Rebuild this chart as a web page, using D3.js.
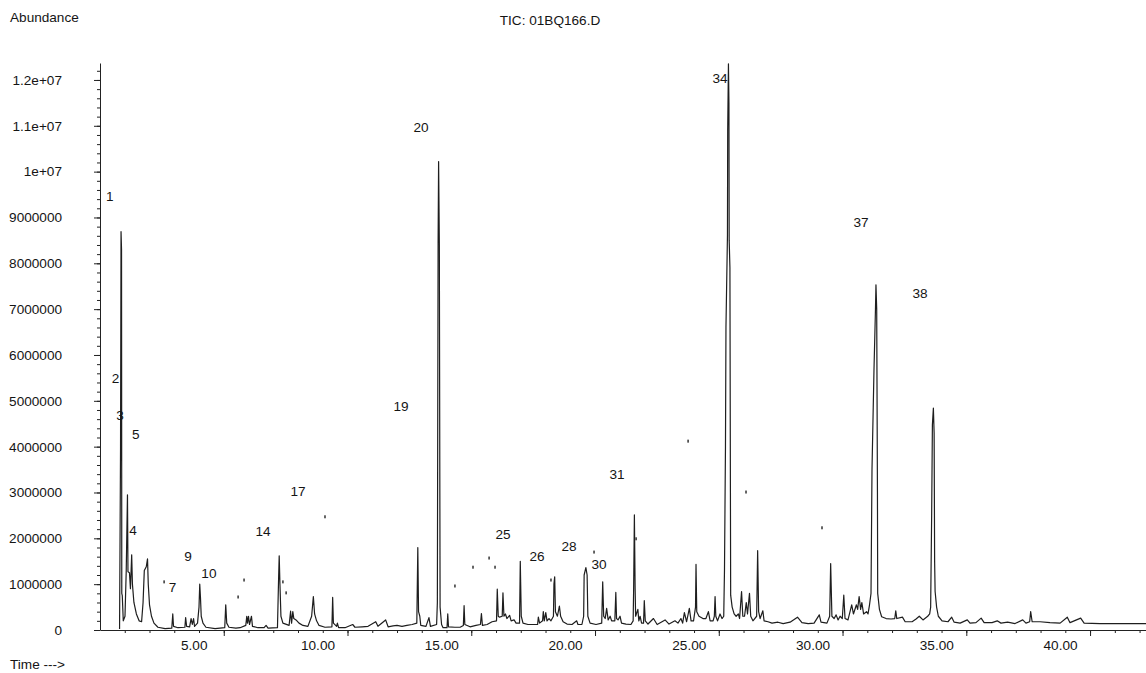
<!DOCTYPE html>
<html>
<head>
<meta charset="utf-8">
<script src="https://cdn.jsdelivr.net/npm/d3@7"></script>
<style>
  body { margin: 0; background: #fff; }
  text { font-family: "Liberation Sans", Arial, sans-serif; fill: #151515; }
</style>
</head>
<body>
<div class="tic-plot"></div>
<script>
// TIC trace: [retention time (min), abundance (millions)]
const trace = [
  [0.79,0.02],[0.83,4.0],[0.85,8.69],[0.87,8.3],[0.88,0.8],[0.90,0.75],[0.94,0.2],[1.01,0.3],
  [1.06,1.3],[1.11,2.95],[1.13,1.27],[1.19,1.25],[1.23,0.9],[1.28,1.64],[1.31,1.0],[1.37,0.6],
  [1.47,0.35],[1.58,0.2],[1.68,0.18],[1.74,0.6],[1.79,1.3],[1.87,1.38],[1.92,1.55],[1.95,1.0],
  [2.00,0.55],[2.08,0.3],[2.18,0.15],[2.34,0.06],[2.63,0.03],[2.90,0.04],[2.94,0.35],[2.97,0.08],
  [3.15,0.05],[3.43,0.06],[3.46,0.27],[3.50,0.08],[3.62,0.07],[3.68,0.25],[3.73,0.12],[3.78,0.25],
  [3.82,0.08],[3.94,0.15],[4.00,0.5],[4.03,1.0],[4.06,0.7],[4.09,0.3],[4.16,0.15],[4.28,0.06],
  [4.65,0.03],[5.04,0.05],[5.08,0.55],[5.12,0.15],[5.21,0.06],[5.49,0.04],[5.66,0.05],[5.89,0.1],
  [5.93,0.3],[5.96,0.15],[6.00,0.3],[6.04,0.12],[6.12,0.3],[6.16,0.08],[6.38,0.05],[6.63,0.05],
  [6.71,0.1],[6.79,0.04],[7.17,0.05],[7.21,1.0],[7.24,1.62],[7.27,1.0],[7.31,0.3],[7.39,0.15],
  [7.64,0.1],[7.70,0.41],[7.74,0.15],[7.79,0.4],[7.83,0.25],[7.92,0.22],[8.04,0.15],[8.20,0.1],
  [8.40,0.08],[8.55,0.3],[8.62,0.73],[8.67,0.35],[8.75,0.2],[8.85,0.1],[9.09,0.06],[9.37,0.07],
  [9.40,0.71],[9.43,0.15],[9.56,0.08],[9.59,0.15],[9.64,0.05],[9.90,0.05],[10.21,0.12],[10.30,0.06],
  [10.59,0.07],[10.83,0.08],[11.14,0.18],[11.23,0.08],[11.54,0.22],[11.64,0.07],[11.84,0.09],[12.00,0.1],
  [12.20,0.08],[12.40,0.1],[12.61,0.12],[12.80,0.15],[12.84,1.8],[12.87,0.4],[12.92,0.3],[12.96,0.1],
  [13.17,0.08],[13.29,0.27],[13.35,0.08],[13.60,0.12],[13.63,0.6],[13.66,8.44],[13.68,10.22],[13.71,8.4],
  [13.74,0.5],[13.80,0.12],[13.86,0.05],[14.02,0.05],[14.05,0.35],[14.08,0.07],[14.34,0.06],[14.55,0.06],
  [14.68,0.1],[14.71,0.53],[14.74,0.12],[14.95,0.07],[15.19,0.1],[15.37,0.12],[15.41,0.36],[15.45,0.1],
  [15.64,0.12],[15.84,0.18],[16.02,0.2],[16.05,0.89],[16.09,0.3],[16.14,0.28],[16.25,0.3],[16.28,0.81],
  [16.32,0.3],[16.38,0.35],[16.44,0.25],[16.55,0.32],[16.61,0.2],[16.73,0.22],[16.81,0.15],[16.95,0.15],
  [16.98,1.5],[17.02,0.3],[17.09,0.15],[17.29,0.12],[17.49,0.12],[17.68,0.12],[17.71,0.28],[17.76,0.15],
  [17.88,0.2],[17.91,0.4],[17.95,0.2],[18.01,0.38],[18.06,0.2],[18.14,0.25],[18.22,0.2],[18.32,0.3],
  [18.34,1.0],[18.37,1.16],[18.40,0.4],[18.48,0.3],[18.56,0.52],[18.61,0.3],[18.71,0.18],[18.87,0.13],
  [19.07,0.12],[19.26,0.2],[19.31,0.12],[19.47,0.12],[19.54,0.3],[19.56,1.2],[19.63,1.36],[19.68,1.2],
  [19.71,0.3],[19.80,0.15],[20.04,0.12],[20.27,0.15],[20.31,1.05],[20.35,0.3],[20.41,0.25],[20.47,0.47],
  [20.53,0.22],[20.61,0.3],[20.67,0.2],[20.80,0.2],[20.84,0.82],[20.87,0.25],[20.93,0.22],[21.01,0.3],
  [21.07,0.15],[21.25,0.13],[21.45,0.12],[21.54,0.2],[21.56,0.9],[21.59,2.51],[21.62,0.9],[21.64,0.3],
  [21.73,0.45],[21.77,0.2],[21.82,0.3],[21.88,0.15],[21.96,0.15],[21.99,0.64],[22.03,0.2],[22.14,0.13],
  [22.36,0.25],[22.51,0.12],[22.83,0.22],[22.99,0.13],[23.23,0.2],[23.35,0.15],[23.47,0.25],[23.54,0.15],
  [23.61,0.38],[23.70,0.18],[23.81,0.47],[23.88,0.2],[23.98,0.2],[24.06,0.5],[24.08,1.43],[24.11,0.4],
  [24.20,0.3],[24.36,0.25],[24.48,0.25],[24.58,0.4],[24.65,0.2],[24.77,0.2],[24.82,0.3],[24.85,0.73],
  [24.88,0.3],[24.95,0.2],[25.05,0.35],[25.13,0.25],[25.20,0.3],[25.23,1.3],[25.27,4.0],[25.29,6.6],
  [25.35,8.6],[25.36,10.9],[25.39,12.35],[25.41,11.5],[25.42,8.5],[25.45,7.9],[25.47,3.0],[25.48,0.76],
  [25.54,0.5],[25.62,0.35],[25.70,0.3],[25.79,0.35],[25.84,0.25],[25.92,0.84],[25.97,0.3],[26.04,0.3],
  [26.11,0.6],[26.16,0.35],[26.24,0.8],[26.29,0.3],[26.38,0.2],[26.53,0.3],[26.57,1.73],[26.61,0.4],
  [26.67,0.25],[26.78,0.42],[26.83,0.2],[26.99,0.18],[27.15,0.15],[27.39,0.17],[27.60,0.14],[27.88,0.17],
  [28.18,0.28],[28.36,0.16],[28.61,0.14],[28.85,0.15],[29.06,0.33],[29.13,0.17],[29.37,0.15],[29.48,0.3],
  [29.52,1.45],[29.57,0.3],[29.66,0.25],[29.74,0.33],[29.82,0.22],[29.90,0.3],[29.99,0.25],[30.05,0.76],
  [30.10,0.25],[30.22,0.22],[30.37,0.55],[30.44,0.35],[30.56,0.55],[30.61,0.45],[30.67,0.73],[30.73,0.45],
  [30.78,0.6],[30.85,0.35],[30.97,0.4],[31.03,0.35],[31.09,0.55],[31.15,0.8],[31.19,3.5],[31.27,5.67],
  [31.33,7.0],[31.35,7.53],[31.38,7.0],[31.41,3.0],[31.42,0.8],[31.49,0.45],[31.58,0.29],[31.76,0.25],
  [31.96,0.24],[32.11,0.25],[32.15,0.42],[32.19,0.25],[32.42,0.28],[32.53,0.18],[32.81,0.18],[32.97,0.24],
  [33.10,0.3],[33.25,0.22],[33.44,0.3],[33.52,0.35],[33.56,0.5],[33.60,2.5],[33.63,4.47],[33.67,4.84],
  [33.70,4.3],[33.72,1.5],[33.74,0.84],[33.80,0.5],[33.87,0.3],[34.02,0.2],[34.26,0.18],[34.41,0.28],
  [34.51,0.17],[34.75,0.15],[35.04,0.22],[35.15,0.15],[35.39,0.16],[35.60,0.26],[35.72,0.16],[36.04,0.16],
  [36.25,0.2],[36.40,0.15],[36.67,0.17],[36.97,0.14],[37.28,0.22],[37.41,0.15],[37.56,0.18],[37.60,0.4],
  [37.66,0.18],[37.98,0.18],[38.38,0.16],[38.79,0.15],[39.08,0.28],[39.19,0.16],[39.62,0.26],[39.76,0.15],
  [40.40,0.14],[41.21,0.14],[42.26,0.14]
];

// peak numbers and where they sit (time, abundance in millions)
const peakLabels = ["1","2","3","5","4","7","9","10","14","17","19","20","25","26","28","30","31","34","37","38"];
const peakLabelTime = [0.40,0.63,0.81,1.45,1.33,2.93,3.56,4.40,6.59,8.00,12.16,12.97,16.28,17.66,18.95,20.16,20.89,25.05,30.75,33.13];
const peakLabelAbund = [9.47,5.50,4.69,4.28,2.18,0.94,1.61,1.24,2.16,3.03,4.89,10.98,2.09,1.61,1.83,1.44,3.40,12.04,8.90,7.35];

// small leftover marks of the printout
const markTime = [2.59,5.82,5.58,7.39,7.52,9.09,14.34,15.07,15.72,15.96,18.22,19.96,21.66,23.76,26.10,29.17];
const markAbund = [1.05,1.09,0.72,1.05,0.81,2.47,0.96,1.37,1.57,1.37,1.09,1.70,1.99,4.12,3.01,2.23];

const yTickValues = [0,1e6,2e6,3e6,4e6,5e6,6e6,7e6,8e6,9e6,1e7,1.1e7,1.2e7];
const yTickLabels = ["0","1000000","2000000","3000000","4000000","5000000","6000000","7000000","8000000","9000000","1e+07","1.1e+07","1.2e+07"];
const xTickValues = [5,10,15,20,25,30,35,40];
const xTickLabels = ["5.00","10.00","15.00","20.00","25.00","30.00","35.00","40.00"];

const width = 1146;
const height = 673;
const fontSize = 13.6;
const svg = d3.select('.tic-plot')
  .append('svg')
  .attr('width', width)
  .attr('height', height)

const x = d3.scaleLinear().domain([0, 42.26]).range([100, 1146]);
const y = d3.scaleLinear().domain([0, 12.37e6]).range([630, 63]);

// minor ticks
const yMinor = d3.range(0, 12.3e6, 0.2e6);
svg.append("g")
  .attr("transform", "translate(100,0)")
  .call(d3.axisLeft(y).tickValues(yMinor).tickSize(3).tickSizeOuter(0).tickFormat(""))
  .call(g => g.select(".domain").remove())
svg.append("g")
  .attr("transform", "translate(0,630)")
  .call(d3.axisBottom(x).tickValues(d3.range(1, 43)).tickSize(3).tickSizeOuter(0).tickFormat(""))
  .call(g => g.select(".domain").remove())

// main axes
const yAxis = svg.append("g")
  .attr("transform", "translate(100,0)")
  .call(d3.axisLeft(y).tickValues(yTickValues).tickSize(6).tickSizeOuter(0).tickPadding(32)
    .tickFormat((d, i) => yTickLabels[i]))
yAxis.selectAll("text").attr("font-size", fontSize).attr("font-family", "Liberation Sans, Arial, sans-serif");

const xAxis = svg.append("g")
  .attr("transform", "translate(0,630)")
  .call(d3.axisBottom(x).tickValues(xTickValues).tickSize(6).tickSizeOuter(0).tickPadding(4)
    .tickFormat((d, i) => xTickLabels[i]))
xAxis.selectAll("text").attr("font-size", fontSize).attr("dx", -30).attr("font-family", "Liberation Sans, Arial, sans-serif");

svg.selectAll(".domain, .tick line").attr("stroke", "#222");

// chromatogram
const line = d3.line()
  .x(d => x(d[0]))
  .y(d => y(d[1] * 1e6));

svg.append("path")
  .datum(trace)
  .attr("d", line)
  .attr("fill", "none")
  .attr("stroke", "#1e1e1e")
  .attr("stroke-width", 1.2)
  .attr("stroke-linejoin", "round");

// marks
svg.selectAll("rect.mark")
  .data(markTime)
  .enter()
  .append("rect")
  .attr("class", "mark")
  .attr("x", (d) => x(d) - 0.75)
  .attr("y", (d, i) => y(markAbund[i] * 1e6) - 1.5)
  .attr("width", 1.5)
  .attr("height", 3)
  .attr("fill", "#333");

// peak numbers
svg.selectAll("text.peak")
  .data(peakLabels)
  .enter()
  .append("text")
  .attr("class", "peak")
  .attr("x", (d, i) => x(peakLabelTime[i]))
  .attr("y", (d, i) => y(peakLabelAbund[i] * 1e6))
  .attr("dy", "0.36em")
  .attr("text-anchor", "middle")
  .attr("font-size", fontSize)
  .text(d => d);

svg.append("text").attr("x", 10).attr("y", 22).attr("font-size", fontSize).text("Abundance");
svg.append("text").attr("x", 550).attr("y", 25).attr("font-size", fontSize).attr("text-anchor", "middle").text("TIC: 01BQ166.D");
svg.append("text").attr("x", 10).attr("y", 669).attr("font-size", fontSize).text("Time --->");
</script>
</body>
</html>
